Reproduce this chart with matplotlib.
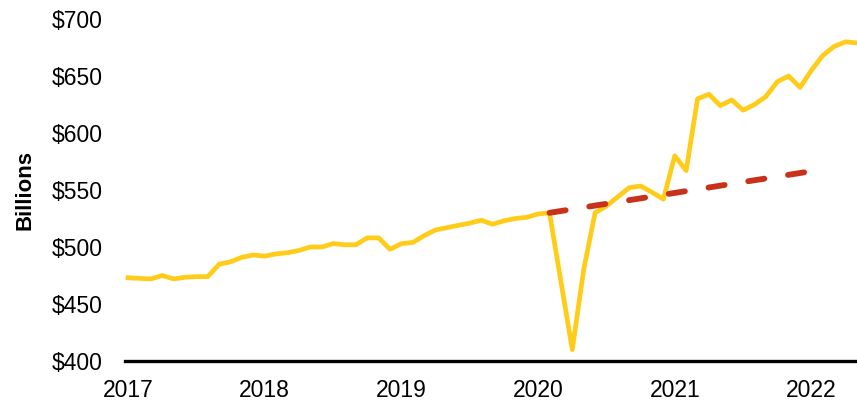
import matplotlib.pyplot as plt

# Ventas mensuales (miles de millones), enero 2017 .. mayo 2022
meses = list(range(65))
ventas = [
    473, 472.5, 472, 475, 472, 473.5, 474, 474, 485, 487, 491, 493,   # 2017
    492, 494, 495, 497, 500, 500, 503, 502, 502, 508, 508, 498,       # 2018
    503, 504, 510, 515, 517, 519, 521, 523.5, 520, 523, 525, 526,     # 2019
    529, 530, 470, 410, 480, 530, 536, 544, 552, 553.5, 548, 542,     # 2020
    580, 567, 630, 634, 624, 629, 620, 625, 632, 645, 650, 640,       # 2021
    655, 668, 676, 680, 679,                                          # 2022
]

# Tendencia previa a la pandemia (linea discontinua)
meses_tendencia = [37, 60.3]
valores_tendencia = [530, 567]

anios = ['2017', '2018', '2019', '2020', '2021', '2022']
ticks_x = [0, 12, 24, 36, 48, 60]
ticks_y = [400, 450, 500, 550, 600, 650, 700]

plt.rcParams['font.family'] = ['Liberation Sans', 'DejaVu Sans']

fig = plt.figure(figsize=(8.57, 4.04), dpi=100)
ax = fig.add_axes([0.146, 0.1064, 0.854, 0.8465])

ax.plot(meses, ventas, color='#FFCC1A', linewidth=3.4, solid_joinstyle='round', zorder=2)
linea, = ax.plot(meses_tendencia, valores_tendencia, color='#C8321A', linewidth=4.2,
                 dash_capstyle='round', zorder=3)
linea.set_dashes((2.8, 4.1))

ax.set_xlim(-0.26, 64.0)
ax.set_ylim(400, 700)

ax.set_xticks(ticks_x)
ax.set_xticklabels(anios)
ax.set_yticks(ticks_y)
ax.set_yticklabels(['$' + str(v) for v in ticks_y])
ax.tick_params(axis='both', length=0, labelsize=16.5, colors='black')
ax.tick_params(axis='x', pad=13)
ax.tick_params(axis='y', pad=16)

for lado in ['top', 'right', 'left']:
    ax.spines[lado].set_visible(False)
ax.spines['bottom'].set_linewidth(2.4)
ax.spines['bottom'].set_color('black')

ax.set_ylabel('Billions', fontsize=16, fontweight='bold', labelpad=12)

fig.savefig('out.png', dpi=100)
